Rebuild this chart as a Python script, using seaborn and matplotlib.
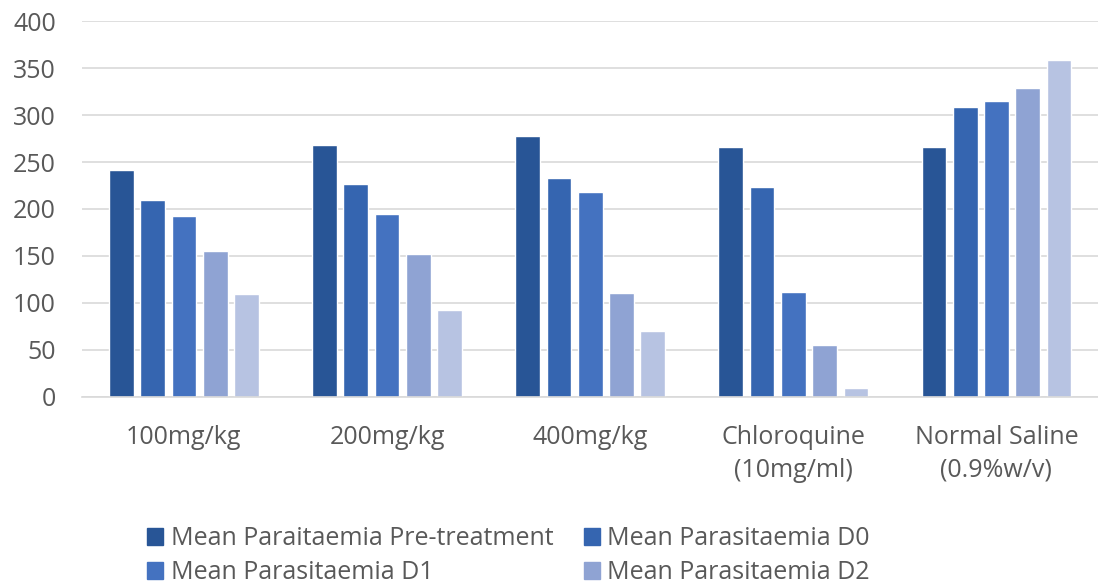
import pandas as pd
import matplotlib.pyplot as plt
import matplotlib.patches as mpatches
import seaborn as sns

groups = ['100mg/kg', '200mg/kg', '400mg/kg', 'Chloroquine\n(10mg/ml)', 'Normal Saline\n(0.9%w/v)']
series = ['Mean Paraitaemia Pre-treatment', 'Mean Parasitaemia D0', 'Mean Parasitaemia D1',
          'Mean Parasitaemia D2', 'Mean Parasitaemia D3']

pre_treatment = [242, 268, 278, 266, 266]
d0 = [210, 227, 233, 223, 309]
d1 = [192, 195, 218, 112, 315]
d2 = [155, 152, 111, 55, 329]
d3 = [110, 92, 70, 9, 359]

colors = ['#285596', '#3565b0', '#4472c0', '#8fa3d3', '#b7c3e2']

rows = []
for name, vals in zip(series, [pre_treatment, d0, d1, d2, d3]):
    for g, v in zip(groups, vals):
        rows.append({'group': g, 'series': name, 'value': v})
df = pd.DataFrame(rows)

sns.set_style('white')
plt.rcParams['font.family'] = ['Open Sans', 'DejaVu Sans']

fig = plt.figure(figsize=(10.98, 5.87), dpi=100)
ax = fig.add_axes([0.075, 0.324, 0.925, 0.64])

sns.barplot(data=df, x='group', y='value', hue='series', hue_order=series, order=groups,
            palette=colors, width=0.77, gap=0.21, saturation=1, legend=False, ax=ax)

ax.set_ylim(0, 400)
ax.set_yticks(range(0, 401, 50))
ax.yaxis.grid(True, color='#d9d9d9', linewidth=1.2)
ax.set_axisbelow(True)
for s in ['top', 'right', 'left']:
    ax.spines[s].set_visible(False)
ax.spines['bottom'].set_color('#d9d9d9')
ax.spines['bottom'].set_linewidth(1.2)
ax.set_xlabel('')
ax.set_ylabel('')
ax.tick_params(axis='both', length=0, labelsize=18, labelcolor='#595959')
ax.tick_params(axis='x', pad=20.5)
ax.tick_params(axis='y', pad=19)
for t in ax.get_xticklabels():
    t.set_linespacing(1.4)
ax.set_xlim(-0.5, len(groups) - 0.5)

# matplotlib fills legend columns first, so order handles to read row by row
order = [0, 2, 1, 3]
handles = [mpatches.Patch(color=colors[i], label=series[i]) for i in order]
leg = fig.legend(handles=handles, ncol=2, loc='upper left', bbox_to_anchor=(0.134, 0.104),
                 frameon=False, fontsize=18, handlelength=0.65, handleheight=0.65,
                 handletextpad=0.3, columnspacing=1.2, labelspacing=0.36,
                 borderpad=0, borderaxespad=0)
for t in leg.get_texts():
    t.set_color('#595959')

plt.savefig('out.png', dpi=100)
